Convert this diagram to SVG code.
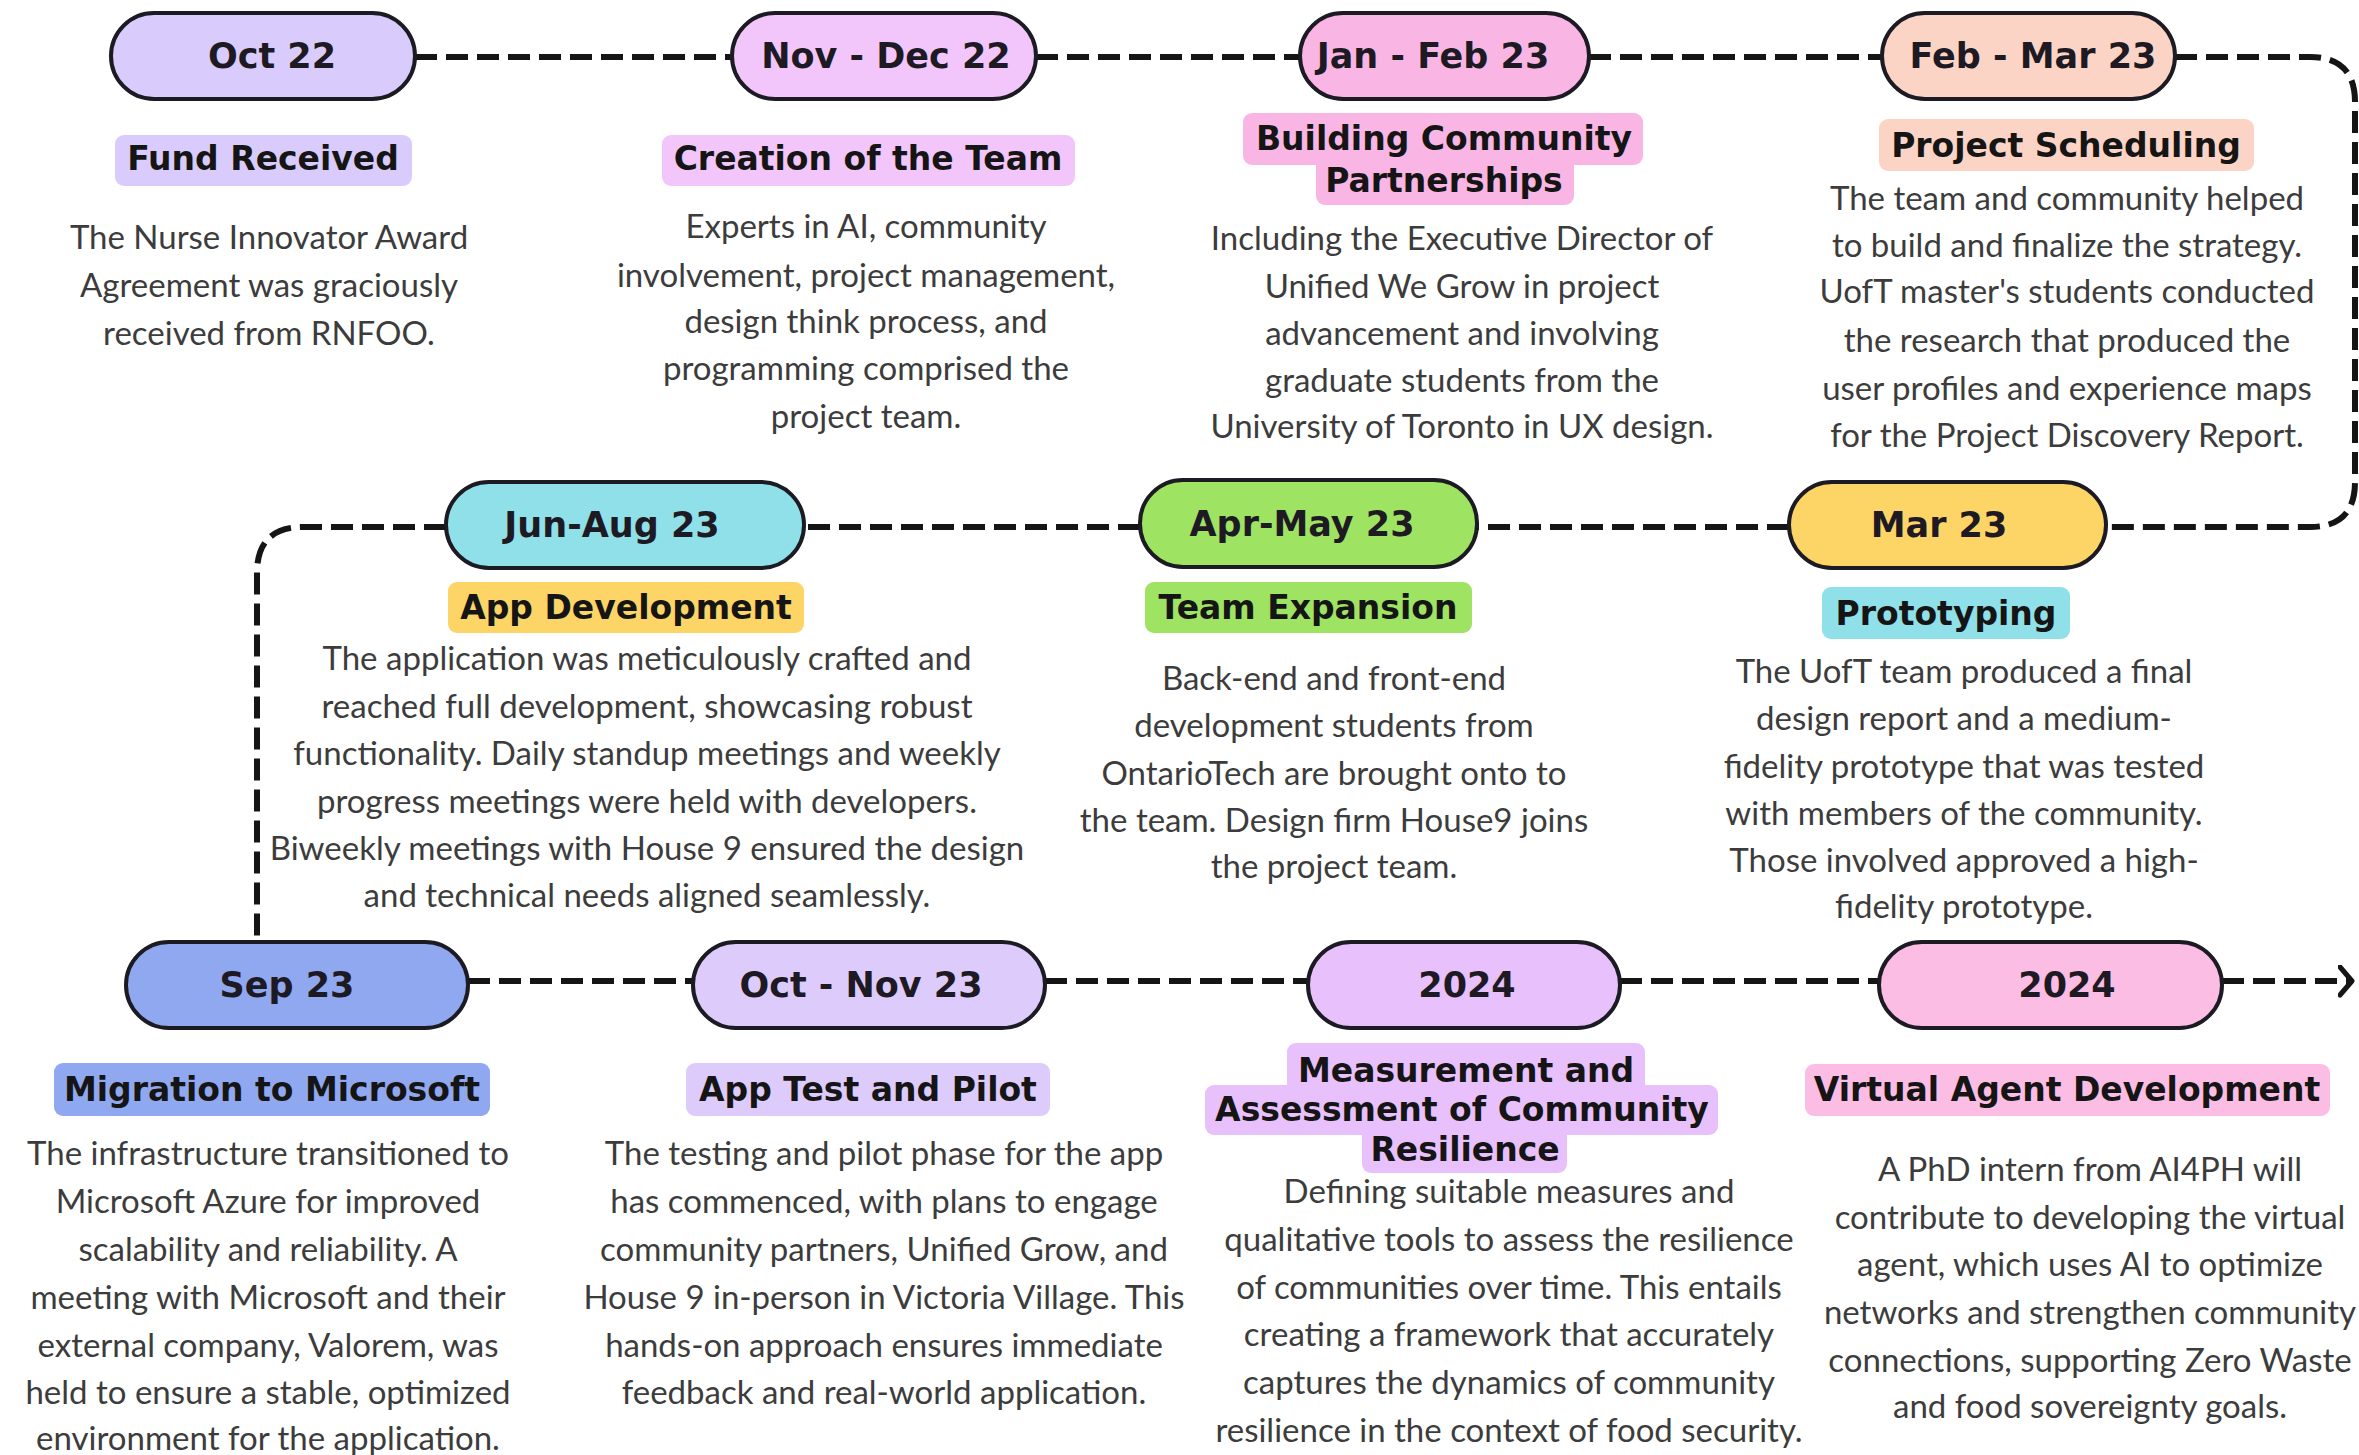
<svg xmlns="http://www.w3.org/2000/svg" width="2359" height="1455" viewBox="0 0 2359 1455">
<style>
.pill{stroke:#1c1a22;stroke-width:4}
.date{font-family:"DejaVu Sans",sans-serif;font-weight:bold;font-size:35px;fill:#1e1a24;text-anchor:middle}
.title{font-family:"DejaVu Sans",sans-serif;font-weight:bold;font-size:33px;fill:#151515;text-anchor:middle}
.body{font-family:Lato,"Liberation Sans",sans-serif;font-size:33px;fill:#3c3c3c;text-anchor:middle}
.conn{fill:none;stroke:#151515;stroke-width:6;stroke-dasharray:22 9}
.c1{fill:#d9ccfd}.c2{fill:#f2c6fb}.c3{fill:#f9b6e4}.c4{fill:#fbd4c5}
.c5{fill:#fdd466}.c6{fill:#9fe363}.c7{fill:#8fe0e8}.c8{fill:#8fa8f0}
.c9{fill:#ddcbfc}.c10{fill:#e8c0fc}.c11{fill:#fbbde4}
</style>
<defs>
<marker id="chev" markerUnits="userSpaceOnUse" markerWidth="30" markerHeight="36" refX="14" refY="16" orient="auto" viewBox="0 0 30 36">
<path d="M2,2 L14,16 L2,30" fill="none" stroke="#151515" stroke-width="5" stroke-linecap="round" stroke-linejoin="round"/>
</marker>
</defs>
<rect width="2359" height="1455" fill="#ffffff"/>

<g id="connectors">
<path class="conn" d="M415,57 H732"/>
<path class="conn" d="M1036,57 H1300"/>
<path class="conn" d="M1589,57 H1882"/>
<path class="conn" d="M2175,57 H2310 Q2355,57 2355,102 V482 Q2355,527 2310,527 H2106"/>
<path class="conn" d="M1789,527 H1477"/>
<path class="conn" d="M1140,527 H804"/>
<path class="conn" d="M446,527 H303 Q257,527 257,573 V942"/>
<path class="conn" d="M468,981 H693"/>
<path class="conn" d="M1045,981 H1308"/>
<path class="conn" d="M1620,981 H1879"/>
<path class="conn" d="M2222,981 H2352" marker-end="url(#chev)"/>
</g>

<g id="n-oct22">
<rect class="pill c1" x="111" y="13" width="304" height="86" rx="43"/>
<text class="date" x="272" y="68">Oct 22</text>
<rect class="c1" x="115" y="135" width="297" height="51" rx="9"/>
<text class="title" x="263" y="170">Fund Received</text>
<text class="body" x="269" y="249">The Nurse Innovator Award</text>
<text class="body" x="269" y="297">Agreement was graciously</text>
<text class="body" x="269" y="345">received from RNFOO.</text>
</g>

<g id="n-novdec22">
<rect class="pill c2" x="732" y="13" width="304" height="86" rx="43"/>
<text class="date" x="886" y="68">Nov - Dec 22</text>
<rect class="c2" x="662" y="135" width="413" height="51" rx="9"/>
<text class="title" x="868" y="170">Creation of the Team</text>
<text class="body" x="866" y="238">Experts in AI, community</text>
<text class="body" x="866" y="287">involvement, project management,</text>
<text class="body" x="866" y="333">design think process, and</text>
<text class="body" x="866" y="380">programming comprised the</text>
<text class="body" x="866" y="428">project team.</text>
</g>

<g id="n-janfeb23">
<rect class="pill c3" x="1300" y="13" width="289" height="86" rx="43"/>
<text class="date" x="1433" y="68">Jan - Feb 23</text>
<rect class="c3" x="1243" y="113" width="400" height="52" rx="9"/>
<rect class="c3" x="1316" y="155" width="258" height="50" rx="9"/>
<text class="title" x="1444" y="150">Building Community</text>
<text class="title" x="1444" y="192">Partnerships</text>
<text class="body" x="1462" y="250">Including the Executive Director of</text>
<text class="body" x="1462" y="298">Unified We Grow in project</text>
<text class="body" x="1462" y="345">advancement and involving</text>
<text class="body" x="1462" y="392">graduate students from the</text>
<text class="body" x="1462" y="438">University of Toronto in UX design.</text>
</g>

<g id="n-febmar23">
<rect class="pill c4" x="1882" y="13" width="293" height="86" rx="43"/>
<text class="date" x="2033" y="68">Feb - Mar 23</text>
<rect class="c4" x="1879" y="119" width="375" height="52" rx="9"/>
<text class="title" x="2066" y="157">Project Scheduling</text>
<text class="body" x="2067" y="210">The team and community helped</text>
<text class="body" x="2067" y="257">to build and finalize the strategy.</text>
<text class="body" x="2067" y="303">UofT master's students conducted</text>
<text class="body" x="2067" y="352">the research that produced the</text>
<text class="body" x="2067" y="400">user profiles and experience maps</text>
<text class="body" x="2067" y="447">for the Project Discovery Report.</text>
</g>

<g id="n-mar23">
<rect class="pill c5" x="1789" y="482" width="317" height="86" rx="43"/>
<text class="date" x="1939" y="537">Mar 23</text>
<rect class="c7" x="1822" y="587" width="248" height="52" rx="9"/>
<text class="title" x="1946" y="625">Prototyping</text>
<text class="body" x="1964" y="683">The UofT team produced a final</text>
<text class="body" x="1964" y="730">design report and a medium-</text>
<text class="body" x="1964" y="778">fidelity prototype that was tested</text>
<text class="body" x="1964" y="825">with members of the community.</text>
<text class="body" x="1964" y="872">Those involved approved a high-</text>
<text class="body" x="1964" y="918">fidelity prototype.</text>
</g>

<g id="n-aprmay23">
<rect class="pill c6" x="1140" y="480" width="337" height="87" rx="43"/>
<text class="date" x="1302" y="536">Apr-May 23</text>
<rect class="c6" x="1145" y="582" width="327" height="51" rx="9"/>
<text class="title" x="1308" y="619">Team Expansion</text>
<text class="body" x="1334" y="690">Back-end and front-end</text>
<text class="body" x="1334" y="737">development students from</text>
<text class="body" x="1334" y="785">OntarioTech are brought onto to</text>
<text class="body" x="1334" y="832">the team. Design firm House9 joins</text>
<text class="body" x="1334" y="878">the project team.</text>
</g>

<g id="n-junaug23">
<rect class="pill c7" x="446" y="482" width="358" height="86" rx="43"/>
<text class="date" x="612" y="537">Jun-Aug 23</text>
<rect class="c5" x="448" y="582" width="356" height="51" rx="9"/>
<text class="title" x="626" y="619">App Development</text>
<text class="body" x="647" y="670">The application was meticulously crafted and</text>
<text class="body" x="647" y="718">reached full development, showcasing robust</text>
<text class="body" x="647" y="765">functionality. Daily standup meetings and weekly</text>
<text class="body" x="647" y="813">progress meetings were held with developers.</text>
<text class="body" x="647" y="860">Biweekly meetings with House 9 ensured the design</text>
<text class="body" x="647" y="907">and technical needs aligned seamlessly.</text>
</g>

<g id="n-sep23">
<rect class="pill c8" x="126" y="942" width="342" height="86" rx="43"/>
<text class="date" x="287" y="997">Sep 23</text>
<rect class="c8" x="54" y="1063" width="436" height="53" rx="9"/>
<text class="title" x="272" y="1101">Migration to Microsoft</text>
<text class="body" x="268" y="1165">The infrastructure transitioned to</text>
<text class="body" x="268" y="1213">Microsoft Azure for improved</text>
<text class="body" x="268" y="1261">scalability and reliability. A</text>
<text class="body" x="268" y="1309">meeting with Microsoft and their</text>
<text class="body" x="268" y="1357">external company, Valorem, was</text>
<text class="body" x="268" y="1404">held to ensure a stable, optimized</text>
<text class="body" x="268" y="1450">environment for the application.</text>
</g>

<g id="n-octnov23">
<rect class="pill c9" x="693" y="942" width="352" height="86" rx="43"/>
<text class="date" x="861" y="997">Oct - Nov 23</text>
<rect class="c9" x="686" y="1063" width="364" height="53" rx="9"/>
<text class="title" x="868" y="1101">App Test and Pilot</text>
<text class="body" x="884" y="1165">The testing and pilot phase for the app</text>
<text class="body" x="884" y="1213">has commenced, with plans to engage</text>
<text class="body" x="884" y="1261">community partners, Unified Grow, and</text>
<text class="body" x="884" y="1309">House 9 in-person in Victoria Village. This</text>
<text class="body" x="884" y="1357">hands-on approach ensures immediate</text>
<text class="body" x="884" y="1404">feedback and real-world application.</text>
</g>

<g id="n-2024a">
<rect class="pill c10" x="1308" y="942" width="312" height="86" rx="43"/>
<text class="date" x="1467" y="997">2024</text>
<rect class="c10" x="1287" y="1043" width="358" height="52" rx="9"/>
<rect class="c10" x="1205" y="1085" width="513" height="50" rx="9"/>
<rect class="c10" x="1362" y="1125" width="205" height="48" rx="9"/>
<text class="title" x="1466" y="1082">Measurement and</text>
<text class="title" x="1462" y="1121">Assessment of Community</text>
<text class="title" x="1465" y="1161">Resilience</text>
<text class="body" x="1509" y="1203">Defining suitable measures and</text>
<text class="body" x="1509" y="1251">qualitative tools to assess the resilience</text>
<text class="body" x="1509" y="1299">of communities over time. This entails</text>
<text class="body" x="1509" y="1346">creating a framework that accurately</text>
<text class="body" x="1509" y="1394">captures the dynamics of community</text>
<text class="body" x="1509" y="1442">resilience in the context of food security.</text>
</g>

<g id="n-2024b">
<rect class="pill c11" x="1879" y="942" width="343" height="86" rx="43"/>
<text class="date" x="2067" y="997">2024</text>
<rect class="c11" x="1805" y="1064" width="525" height="52" rx="9"/>
<text class="title" x="2067" y="1101">Virtual Agent Development</text>
<text class="body" x="2090" y="1181">A PhD intern from AI4PH will</text>
<text class="body" x="2090" y="1229">contribute to developing the virtual</text>
<text class="body" x="2090" y="1276">agent, which uses AI to optimize</text>
<text class="body" x="2090" y="1324">networks and strengthen community</text>
<text class="body" x="2090" y="1372">connections, supporting Zero Waste</text>
<text class="body" x="2090" y="1418">and food sovereignty goals.</text>
</g>
</svg>
